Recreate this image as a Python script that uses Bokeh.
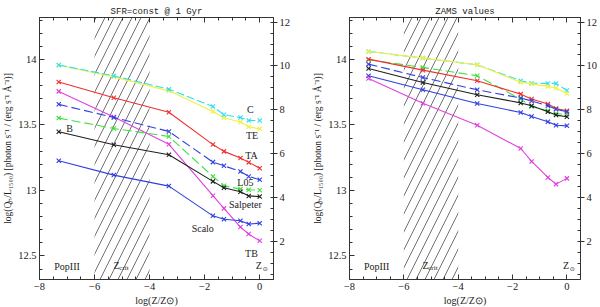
from bokeh.plotting import figure
from bokeh.models import (Range1d, LinearAxis, SingleIntervalTicker,
                          CustomJSTickFormatter)
from bokeh.layouts import row
from bokeh.core.properties import value
from bokeh.embed import file_html
from bokeh.resources import INLINE

# ---------------- data ----------------
log_z = [-7.3, -5.3, -3.3, -1.7, -1.3, -0.7, -0.4, 0.0]
zcrit_band = [-6.0, -4.0]

x_range_vals = [-8.0, 0.5]
y_range_vals = [12.32, 14.32]
y2_range_vals = [0.25, 12.21]

# left panel: SFR = const @ 1 Gyr
sfr_C = [13.957, 13.875, 13.773, 13.640, 13.578, 13.556, 13.534, 13.534]
sfr_TE = [13.955, 13.867, 13.760, 13.602, 13.555, 13.522, 13.486, 13.470]
sfr_TA = [13.827, 13.707, 13.597, 13.350, 13.298, 13.247, 13.214, 13.170]
sfr_TB = [13.756, 13.560, 13.352, 12.960, 12.863, 12.720, 12.667, 12.615]
sfr_L05 = [13.657, 13.557, 13.450, 13.216, 13.188, 13.145, 13.107, 13.081]
sfr_green = [13.552, 13.473, 13.412, 13.107, 13.035, 13.010, 13.005, 13.002]
sfr_Salp = [13.448, 13.349, 13.272, 13.069, 13.020, 12.990, 12.958, 12.953]
sfr_Scalo = [13.226, 13.117, 13.033, 12.806, 12.780, 12.768, 12.743, 12.750]

# right panel: ZAMS values
zams_C = [14.061, 14.010, 13.959, 13.837, 13.818, 13.817, 13.817, 13.763]
zams_TE = [14.061, 14.010, 13.959, 13.826, 13.813, 13.794, 13.780, 13.740]
zams_green = [13.998, 13.939, 13.875, 13.697, 13.641, 13.608, 13.585, 13.582]
zams_TA = [14.002, 13.918, 13.837, 13.735, 13.698, 13.659, 13.626, 13.608]
zams_L05 = [13.964, 13.862, 13.768, 13.705, 13.683, 13.646, 13.620, 13.600]
zams_Salp = [13.931, 13.824, 13.730, 13.668, 13.646, 13.600, 13.575, 13.562]
zams_Scalo = [13.875, 13.768, 13.664, 13.595, 13.565, 13.524, 13.498, 13.493]
zams_TB = [13.855, 13.666, 13.498, 13.320, 13.221, 13.099, 13.048, 13.092]

# curve labels (left panel)
lab_text = ["C", "TE", "TA", "L05", "Salpeter", "Scalo", "TB", "B"]
lab_x = [-0.34, -0.28, -0.30, -0.52, -0.52, -2.07, -0.30, -6.91]
lab_y = [13.62, 13.42, 13.27, 13.06, 12.89, 12.71, 12.52, 13.47]

STY = {
    "C": dict(color="#30e0f0", dash="8 3"),
    "TE": dict(color="#f0f040", dash="solid"),
    "TA": dict(color="#f03030", dash="solid"),
    "TB": dict(color="#e040e0", dash="solid"),
    "L05": dict(color="#3040e0", dash="9 4"),
    "green": dict(color="#40e040", dash="9 4"),
    "Salp": dict(color="#202020", dash="solid"),
    "Scalo": dict(color="#3040e0", dash="solid"),
}

SERIF = "Liberation Serif"


def make_panel(title, series, fw, bl, br, curve_labels):
    p = figure(frame_width=fw, frame_height=262,
               x_range=Range1d(*x_range_vals), y_range=Range1d(*y_range_vals),
               output_backend="svg", toolbar_location=None,
               x_axis_location=None, y_axis_location=None,
               min_border_left=bl, min_border_right=br,
               min_border_top=17, min_border_bottom=0)
    p.extra_y_ranges = {"r": Range1d(*y2_range_vals)}
    p.xgrid.visible = False
    p.ygrid.visible = False
    p.outline_line_color = "#333333"
    p.background_fill_color = "white"
    p.border_fill_color = "white"

    p.title.text = title
    p.title.text_font = "Liberation Mono"
    p.title.text_font_size = "9px"
    p.title.text_font_style = "normal"
    p.title.align = "center"
    p.title.standoff = 1
    p.title.text_color = "#222222"

    def style(ax, labels=True):
        ax.axis_line_color = "#333333"
        ax.major_tick_line_color = "#333333"
        ax.minor_tick_line_color = "#333333"
        ax.major_tick_in = 5
        ax.major_tick_out = 0
        ax.minor_tick_in = 3
        ax.minor_tick_out = 0
        ax.major_label_text_font = SERIF
        ax.major_label_text_font_size = "10.5px"
        ax.major_label_text_color = "#222222"
        ax.axis_label_text_font = SERIF
        ax.axis_label_text_font_style = "normal"
        ax.axis_label_text_color = "#222222"
        if not labels:
            ax.formatter = CustomJSTickFormatter(code="return ''")
            ax.major_label_standoff = 0

    xt = SingleIntervalTicker(interval=2, num_minor_ticks=4)
    yt = SingleIntervalTicker(interval=0.5, num_minor_ticks=5)
    y2t = SingleIntervalTicker(interval=2, num_minor_ticks=4)

    bottom = LinearAxis(ticker=xt, axis_label="log(Z/Z⊙)")
    style(bottom)
    bottom.major_label_standoff = 3
    bottom.axis_label_standoff = 2
    bottom.axis_label_text_font_size = "10px"
    p.add_layout(bottom, "below")

    top = LinearAxis(ticker=xt)
    style(top, labels=False)
    p.add_layout(top, "above")

    left = LinearAxis(ticker=yt,
                      axis_label="log(Qₕ/L₁₅₀₀) [photon s⁻¹ / (erg s⁻¹ Å⁻¹)]")
    style(left)
    left.major_label_standoff = 3
    left.axis_label_standoff = 2
    left.axis_label_text_font_size = "9.5px"
    p.add_layout(left, "left")

    r2 = LinearAxis(ticker=y2t, y_range_name="r")
    style(r2)
    r2.axis_line_color = None
    r2.major_tick_in = 0
    r2.major_tick_out = 4
    r2.minor_tick_in = 3
    r2.minor_tick_out = 0
    r2.major_label_standoff = 2
    p.add_layout(r2, "right")

    # hatched Z_crit band
    p.quad(left=[zcrit_band[0]], right=[zcrit_band[1]],
           bottom=[y_range_vals[0]], top=[y_range_vals[1]],
           fill_color=None, line_color=None,
           hatch_pattern="/", hatch_color="#333333",
           hatch_scale=18, hatch_weight=0.7)

    for key, ys in series:
        s = STY[key]
        p.line(log_z, ys, line_color=s["color"], line_width=1.1,
               line_dash=s["dash"])
        p.scatter(log_z, ys, marker="x", size=6, line_color=s["color"],
                  line_width=1.1)

    fnt = value(SERIF)
    if curve_labels:
        p.text(x=lab_x, y=lab_y, text=lab_text, text_font=fnt,
               text_font_size="10px", text_align="center",
               text_baseline="middle", text_color="#222222")
    p.text(x=[-7.0], y=[12.42], text=["PopIII"], text_font=fnt,
           text_font_size="10px", text_align="center",
           text_baseline="middle", text_color="#222222")
    p.text(x=[-5.2], y=[12.43], text=["Z"], text_font=fnt,
           text_font_size="10px", text_align="center",
           text_baseline="middle", text_color="#222222")
    p.text(x=[-4.93], y=[12.405], text=["crit"], text_font=fnt,
           text_font_size="7px", text_align="center",
           text_baseline="middle", text_color="#222222")
    p.text(x=[-0.03], y=[12.43], text=["Z"], text_font=fnt,
           text_font_size="10px", text_align="center",
           text_baseline="middle", text_color="#222222")
    p.text(x=[0.2], y=[12.405], text=["⊙"], text_font=value("DejaVu Sans"),
           text_font_size="6px", text_align="center",
           text_baseline="middle", text_color="#222222")
    return p


left_series = [("TE", sfr_TE), ("C", sfr_C), ("TA", sfr_TA), ("TB", sfr_TB),
               ("L05", sfr_L05), ("green", sfr_green), ("Salp", sfr_Salp),
               ("Scalo", sfr_Scalo)]
right_series = [("C", zams_C), ("TE", zams_TE), ("green", zams_green),
                ("TA", zams_TA), ("L05", zams_L05), ("Salp", zams_Salp),
                ("Scalo", zams_Scalo), ("TB", zams_TB)]

p1 = make_panel("SFR=const @ 1 Gyr", left_series, 234, 33, 25, True)
p2 = make_panel("ZAMS values", right_series, 231, 51, 18, False)

layout = row(p1, p2)
open("out.html", "w").write(file_html(layout, INLINE))
